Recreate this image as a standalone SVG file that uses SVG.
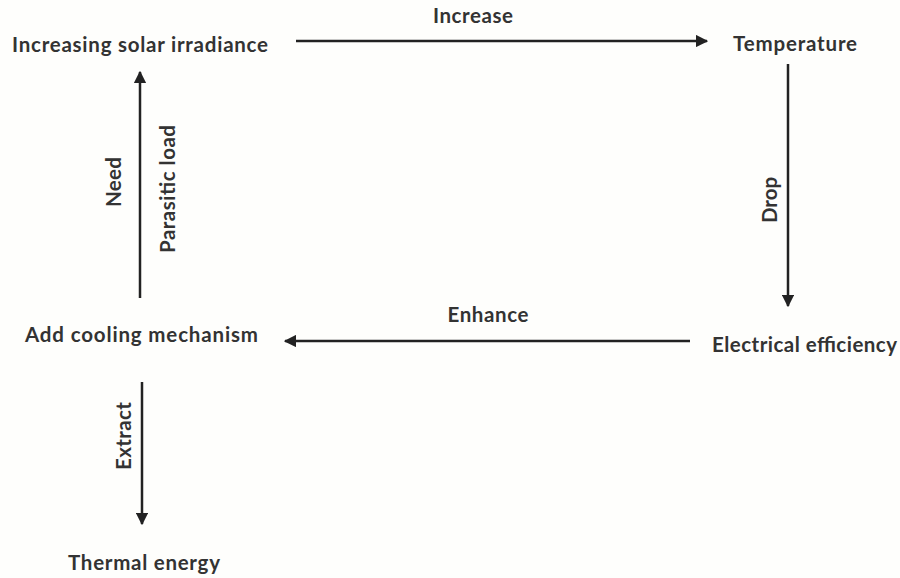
<svg xmlns="http://www.w3.org/2000/svg" width="900" height="578" viewBox="0 0 900 578">
<defs>
<marker id="ah" viewBox="0 0 10 10" refX="9" refY="5" markerWidth="5" markerHeight="5" orient="auto" markerUnits="strokeWidth">
<path d="M0,0 L10,5 L0,10 z" fill="#222"/>
</marker>
<style>
text{font-family:Lato,"Open Sans","Liberation Sans",sans-serif;font-weight:700;fill:#333;font-size:20.5px}
.n{text-anchor:start}
.l{text-anchor:middle}
.c{stroke:#222;stroke-width:2.5;fill:none;marker-end:url(#ah)}
</style>
</defs>
<rect width="900" height="578" fill="#fefefc"/>
<g id="n-solar"><text class="n" x="12" y="52" textLength="256">Increasing solar irradiance</text></g>
<g id="n-temp"><text class="n" x="733" y="51" textLength="124">Temperature</text></g>
<g id="n-elec"><text class="n" x="712" y="352" textLength="185">Electrical efficiency</text></g>
<g id="n-cool"><text class="n" x="25" y="342" textLength="233">Add cooling mechanism</text></g>
<g id="n-thermal"><text class="n" x="68" y="570" textLength="152">Thermal energy</text></g>
<g id="connectors">
<line class="c" x1="296" y1="41" x2="707" y2="41"/>
<line class="c" x1="788" y1="64" x2="788" y2="306"/>
<line class="c" x1="690" y1="341" x2="285" y2="341"/>
<line class="c" x1="140" y1="298" x2="140" y2="72"/>
<line class="c" x1="142" y1="382" x2="142" y2="524"/>
<text class="l" x="473" y="23" textLength="80">Increase</text>
<text class="l" x="488" y="322" textLength="81">Enhance</text>
<text class="l" transform="translate(777,200) rotate(-90)">Drop</text>
<text class="l" transform="translate(121,182) rotate(-90)" textLength="50">Need</text>
<text class="l" transform="translate(175,189) rotate(-90)" textLength="128">Parasitic load</text>
<text class="l" transform="translate(131,436) rotate(-90)" textLength="68">Extract</text>
</g>
</svg>
